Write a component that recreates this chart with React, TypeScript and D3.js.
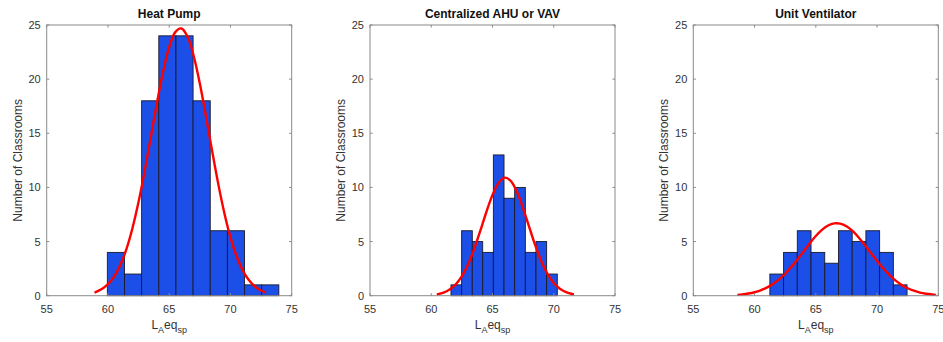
import React from "react";
import * as d3 from "d3";

// ---- data ----
const titles = ["Heat Pump", "Centralized AHU or VAV", "Unit Ventilator"];

const hpEdges = [59.95, 61.35, 62.75, 64.15, 65.55, 66.95, 68.35, 69.75, 71.15, 72.55, 73.95];
const hpCounts = [4, 2, 18, 24, 24, 18, 6, 6, 1, 1];

const ahuEdges = [61.61, 62.48, 63.35, 64.2, 65.07, 65.94, 66.81, 67.68, 68.55, 69.42, 70.29];
const ahuCounts = [1, 6, 5, 4, 13, 9, 10, 4, 5, 2];

const uvEdges = [61.25, 62.37, 63.49, 64.61, 65.73, 66.85, 67.97, 69.09, 70.21, 71.33, 72.45];
const uvCounts = [2, 4, 6, 4, 3, 6, 5, 6, 4, 1];

// fitted curve samples (x, y)
const hpCurveX = [58.9, 59, 59.5, 60, 60.5, 61, 61.5, 62, 62.5, 63, 63.5, 64, 64.5, 65, 65.5, 66, 66.5, 67, 67.5, 68, 68.5, 69, 69.5, 70, 70.5, 71, 71.5, 72, 72.5, 72.9];
const hpCurveY = [0.29, 0.33, 0.61, 1.06, 1.76, 2.81, 4.28, 6.23, 8.67, 11.53, 14.66, 17.81, 20.68, 22.95, 24.34, 24.68, 23.91, 22.14, 19.59, 16.57, 13.39, 10.35, 7.64, 5.39, 3.64, 2.34, 1.44, 0.85, 0.48, 0.29];

const ahuCurveX = [60.45, 60.5, 61, 61.5, 62, 62.5, 63, 63.5, 64, 64.5, 65, 65.5, 66, 66.5, 67, 67.5, 68, 68.5, 69, 69.5, 70, 70.5, 71, 71.5, 71.65];
const ahuCurveY = [0.12, 0.13, 0.28, 0.57, 1.04, 1.8, 2.88, 4.3, 5.98, 7.73, 9.31, 10.44, 10.9, 10.59, 9.58, 8.07, 6.33, 4.62, 3.14, 1.99, 1.17, 0.64, 0.33, 0.16, 0.12];

const uvCurveX = [58.6, 59, 59.5, 60, 60.5, 61, 61.5, 62, 62.5, 63, 63.5, 64, 64.5, 65, 65.5, 66, 66.5, 67, 67.5, 68, 68.5, 69, 69.5, 70, 70.5, 71, 71.5, 72, 72.5, 73, 73.5, 74, 74.5, 74.8];
const uvCurveY = [0.08, 0.12, 0.2, 0.32, 0.5, 0.75, 1.08, 1.51, 2.03, 2.66, 3.35, 4.09, 4.83, 5.51, 6.08, 6.48, 6.68, 6.66, 6.42, 5.98, 5.38, 4.69, 3.94, 3.21, 2.53, 1.92, 1.41, 1.0, 0.69, 0.46, 0.29, 0.18, 0.11, 0.08];

const xTicks = [55, 60, 65, 70, 75];
const yTicks = [0, 5, 10, 15, 20, 25];
const xDomain = [55, 75];
const yDomain = [0, 25];

const panels = [
  { title: titles[0], edges: hpEdges, counts: hpCounts, cx: hpCurveX, cy: hpCurveY },
  { title: titles[1], edges: ahuEdges, counts: ahuCounts, cx: ahuCurveX, cy: ahuCurveY },
  { title: titles[2], edges: uvEdges, counts: uvCounts, cx: uvCurveX, cy: uvCurveY },
];

const W = 943;
const H = 342;
const FONT = "'Liberation Sans', Arial, Helvetica, sans-serif";
const AXIS = "#8a8a8a";
const TEXT = "#333333";

function Panel({ p, left }: { p: any; left: number }) {
  const top = 25;
  const width = 245;
  const height = 270.7;
  const x = d3.scaleLinear().domain(xDomain).range([left, left + width]);
  const y = d3.scaleLinear().domain(yDomain).range([top + height, top]);
  const tl = 2.6;
  const line = d3
    .line<number>()
    .x((_, i) => x(p.cx[i]))
    .y((d) => y(d))
    .curve(d3.curveCatmullRom);
  const cx = left + width / 2;
  return (
    <g>
      {p.counts.map((c: number, i: number) => (
        <rect
          key={i}
          x={x(p.edges[i])}
          y={y(c)}
          width={x(p.edges[i + 1]) - x(p.edges[i])}
          height={y(0) - y(c)}
          fill="#1c4fe8"
          stroke="#1a1a2a"
          strokeWidth={0.9}
        />
      ))}
      <path d={line(p.cy) || ""} fill="none" stroke="#ff0000" strokeWidth={2.4} />
      <rect x={left} y={top} width={width} height={height} fill="none" stroke={AXIS} strokeWidth={1} />
      {xTicks.map((t) => (
        <g key={"x" + t}>
          <line x1={x(t)} x2={x(t)} y1={y(0)} y2={y(0) - tl} stroke={AXIS} />
          <line x1={x(t)} x2={x(t)} y1={top} y2={top + tl} stroke={AXIS} />
          <text x={x(t)} y={y(0) + 17} textAnchor="middle" fontSize={11} fill={TEXT} fontFamily={FONT}>
            {t}
          </text>
        </g>
      ))}
      {yTicks.map((t) => (
        <g key={"y" + t}>
          <line x1={left} x2={left + tl} y1={y(t)} y2={y(t)} stroke={AXIS} />
          <line x1={left + width} x2={left + width - tl} y1={y(t)} y2={y(t)} stroke={AXIS} />
          <text x={left - 6} y={y(t) + 4} textAnchor="end" fontSize={11} fill={TEXT} fontFamily={FONT}>
            {t}
          </text>
        </g>
      ))}
      <text x={cx} y={18} textAnchor="middle" fontSize={12} fontWeight="bold" fill="#111" fontFamily={FONT}>
        {p.title}
      </text>
      <text
        transform={`translate(${left - 25},${top + height / 2}) rotate(-90)`}
        textAnchor="middle"
        fontSize={12}
        fill={TEXT}
        fontFamily={FONT}
      >
        Number of Classrooms
      </text>
      <text x={cx} y={329} textAnchor="middle" fontSize={12} fill={TEXT} fontFamily={FONT}>
        L
        <tspan dy={4} fontSize={9}>
          A
        </tspan>
        <tspan dy={-4}>eq</tspan>
        <tspan dy={4} fontSize={9}>
          sp
        </tspan>
      </text>
    </g>
  );
}

export default function App() {
  const lefts = [46.7, 370, 693.3];
  return (
    <svg
      width={W}
      height={H}
      style={{ position: "absolute", left: 0, top: 0, background: "#fff" }}
    >
      <rect width={W} height={H} fill="#fff" />
      {panels.map((p, i) => (
        <Panel key={i} p={p} left={lefts[i]} />
      ))}
    </svg>
  );
}
